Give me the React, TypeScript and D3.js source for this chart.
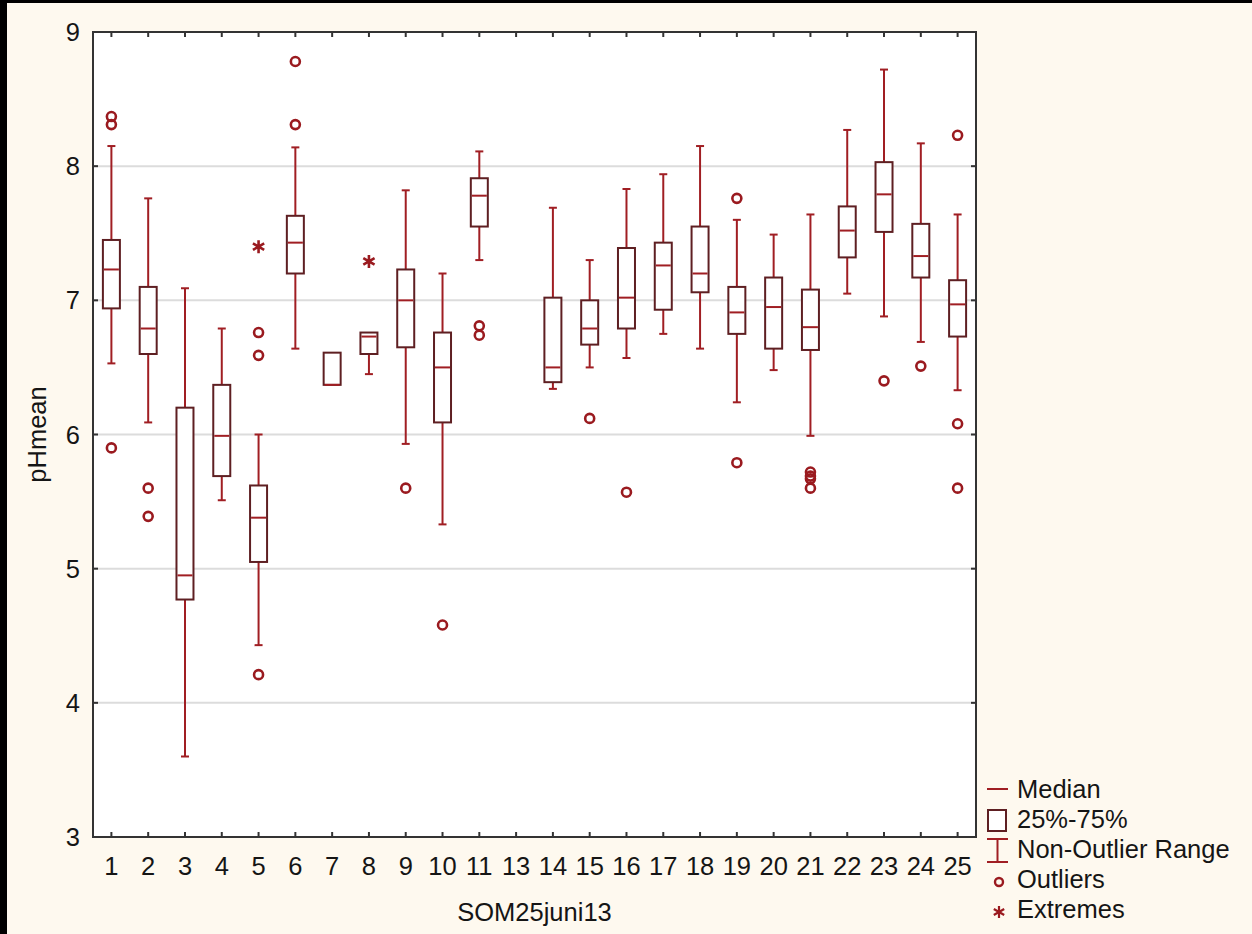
import React, { useEffect, useRef } from 'react';
import * as d3 from 'd3';

// Groups on the x axis (12 has no data and is not shown)
const categories = ['1', '2', '3', '4', '5', '6', '7', '8', '9', '10', '11', '13', '14', '15', '16', '17', '18', '19', '20', '21', '22', '23', '24', '25'];

// Box statistics per group (null = empty group)
const medians: (number | null)[] = [7.23, 6.79, 4.95, 5.99, 5.38, 7.43, 6.37, 6.73, 7.0, 6.5, 7.78, null, 6.5, 6.79, 7.02, 7.26, 7.2, 6.91, 6.95, 6.8, 7.52, 7.79, 7.33, 6.97];
const q1: (number | null)[] = [6.94, 6.6, 4.77, 5.69, 5.05, 7.2, 6.37, 6.6, 6.65, 6.09, 7.55, null, 6.39, 6.67, 6.79, 6.93, 7.06, 6.75, 6.64, 6.63, 7.32, 7.51, 7.17, 6.73];
const q3: (number | null)[] = [7.45, 7.1, 6.2, 6.37, 5.62, 7.63, 6.61, 6.76, 7.23, 6.76, 7.91, null, 7.02, 7.0, 7.39, 7.43, 7.55, 7.1, 7.17, 7.08, 7.7, 8.03, 7.57, 7.15];
const whiskerLow: (number | null)[] = [6.53, 6.09, 3.6, 5.51, 4.43, 6.64, 6.37, 6.45, 5.93, 5.33, 7.3, null, 6.34, 6.5, 6.57, 6.75, 6.64, 6.24, 6.48, 5.99, 7.05, 6.88, 6.69, 6.33];
const whiskerHigh: (number | null)[] = [8.15, 7.76, 7.09, 6.79, 6.0, 8.14, 6.61, 6.76, 7.82, 7.2, 8.11, null, 7.69, 7.3, 7.83, 7.94, 8.15, 7.6, 7.49, 7.64, 8.27, 8.72, 8.17, 7.64];

// Outliers and extremes: [group, value]
const outliers: [string, number][] = [
  ['1', 8.37], ['1', 8.31], ['1', 5.9],
  ['2', 5.6], ['2', 5.39],
  ['5', 6.76], ['5', 6.59], ['5', 4.21],
  ['6', 8.78], ['6', 8.31],
  ['9', 5.6],
  ['10', 4.58],
  ['11', 6.81], ['11', 6.74],
  ['15', 6.12],
  ['16', 5.57],
  ['19', 7.76], ['19', 5.79],
  ['21', 5.72], ['21', 5.69], ['21', 5.67], ['21', 5.6],
  ['23', 6.4],
  ['24', 6.51],
  ['25', 8.23], ['25', 6.08], ['25', 5.6],
];
const extremes: [string, number][] = [['5', 7.4], ['8', 7.29]];

const yTicks = [3, 4, 5, 6, 7, 8, 9];
const legendLabels = ['Median', '25%-75%', 'Non-Outlier Range', 'Outliers', 'Extremes'];

const BOX = '#5e1f22';
const RED = '#a01e23';
const DOT = '#9a1a1f';
const FONT = '"Liberation Sans", Arial, sans-serif';

const asteriskPath = (cx: number, cy: number, r: number) => {
  let p = '';
  for (let i = 0; i < 3; i++) {
    const a = (Math.PI / 3) * i + Math.PI / 2;
    const dx = Math.cos(a) * r;
    const dy = Math.sin(a) * r;
    p += `M${cx - dx},${cy - dy}L${cx + dx},${cy + dy}`;
  }
  return p;
};

const BoxPlot: React.FC = () => {
  const svgRef = useRef<SVGSVGElement>(null);

  useEffect(() => {
    document.body.style.margin = '0';
    const W = 1252;
    const H = 934;
    const left = 93, right = 976, top = 32, bottom = 837;

    const svg = d3.select(svgRef.current);
    svg.selectAll('*').remove();
    svg.attr('width', W).attr('height', H).style('display', 'block');

    // Black edge + cream background
    svg.append('rect').attr('width', W).attr('height', H).attr('fill', '#000');
    svg.append('rect').attr('x', 7).attr('y', 3).attr('width', W - 7).attr('height', H - 3).attr('fill', '#fef9ef');

    const x = d3.scalePoint<string>().domain(categories).range([left, right]).padding(0.5);
    const y = d3.scaleLinear().domain([3, 9]).range([bottom, top]);

    // Plot area
    svg.append('rect')
      .attr('x', left).attr('y', top)
      .attr('width', right - left).attr('height', bottom - top)
      .attr('fill', '#fff');

    // Grid
    svg.append('g')
      .selectAll('line')
      .data(yTicks.filter(t => t > 3 && t < 9))
      .enter()
      .append('line')
      .attr('x1', left).attr('x2', right)
      .attr('y1', d => y(d)).attr('y2', d => y(d))
      .attr('stroke', '#dcdcdc')
      .attr('stroke-width', 2);

    // Frame ticks (inside, all four sides)
    const tickG = svg.append('g').attr('stroke', '#333').attr('stroke-width', 2);
    categories.forEach(c => {
      const cx = x(c)!;
      tickG.append('line').attr('x1', cx).attr('x2', cx).attr('y1', bottom).attr('y2', bottom - 5);
      tickG.append('line').attr('x1', cx).attr('x2', cx).attr('y1', top).attr('y2', top + 5);
    });
    yTicks.forEach(t => {
      tickG.append('line').attr('x1', left).attr('x2', left + 5).attr('y1', y(t)).attr('y2', y(t));
      tickG.append('line').attr('x1', right).attr('x2', right - 5).attr('y1', y(t)).attr('y2', y(t));
    });

    // Boxes
    const boxW = 17;
    const capW = 8;
    const g = svg.append('g');
    categories.forEach((c, i) => {
      const lo = whiskerLow[i], hi = whiskerHigh[i], a = q1[i], b = q3[i], m = medians[i];
      if (lo === null || hi === null || a === null || b === null || m === null) return;
      const cx = x(c)!;
      if (hi > b) {
        g.append('line').attr('x1', cx).attr('x2', cx).attr('y1', y(b)).attr('y2', y(hi)).attr('stroke', RED).attr('stroke-width', 2);
        g.append('line').attr('x1', cx - capW / 2).attr('x2', cx + capW / 2).attr('y1', y(hi)).attr('y2', y(hi)).attr('stroke', RED).attr('stroke-width', 2);
      }
      if (lo < a) {
        g.append('line').attr('x1', cx).attr('x2', cx).attr('y1', y(a)).attr('y2', y(lo)).attr('stroke', RED).attr('stroke-width', 2);
        g.append('line').attr('x1', cx - capW / 2).attr('x2', cx + capW / 2).attr('y1', y(lo)).attr('y2', y(lo)).attr('stroke', RED).attr('stroke-width', 2);
      }
      g.append('rect')
        .attr('x', cx - boxW / 2).attr('y', y(b))
        .attr('width', boxW).attr('height', y(a) - y(b))
        .attr('fill', '#fff')
        .attr('stroke', BOX).attr('stroke-width', 2);
      g.append('line')
        .attr('x1', cx - boxW / 2 + 1).attr('x2', cx + boxW / 2 - 1)
        .attr('y1', y(m)).attr('y2', y(m))
        .attr('stroke', RED).attr('stroke-width', 2);
    });

    // Outliers
    g.selectAll('circle.out')
      .data(outliers)
      .enter()
      .append('circle')
      .attr('class', 'out')
      .attr('cx', d => x(d[0])!)
      .attr('cy', d => y(d[1]))
      .attr('r', 4.5)
      .attr('fill', 'none')
      .attr('stroke', DOT)
      .attr('stroke-width', 2.6);

    // Extremes
    g.selectAll('path.ext')
      .data(extremes)
      .enter()
      .append('path')
      .attr('class', 'ext')
      .attr('d', d => asteriskPath(x(d[0])!, y(d[1]), 6.5))
      .attr('stroke', DOT)
      .attr('stroke-width', 2.6);

    // Frame
    svg.append('rect')
      .attr('x', left).attr('y', top)
      .attr('width', right - left).attr('height', bottom - top)
      .attr('fill', 'none')
      .attr('stroke', '#333')
      .attr('stroke-width', 2);

    // Tick labels
    const txt = svg.append('g').style('font-family', FONT).style('font-size', '25.5px').attr('fill', '#151515');
    txt.selectAll('text.yt')
      .data(yTicks)
      .enter()
      .append('text')
      .attr('class', 'yt')
      .attr('x', 80)
      .attr('y', d => y(d) + 9)
      .attr('text-anchor', 'end')
      .text(d => d);
    txt.selectAll('text.xt')
      .data(categories)
      .enter()
      .append('text')
      .attr('class', 'xt')
      .attr('x', d => x(d)!)
      .attr('y', 875)
      .attr('text-anchor', 'middle')
      .text(d => d);

    // Axis titles
    txt.append('text')
      .attr('x', (left + right) / 2)
      .attr('y', 921)
      .attr('text-anchor', 'middle')
      .text('SOM25juni13');
    txt.append('text')
      .attr('transform', `translate(46,${(top + bottom) / 2}) rotate(-90)`)
      .attr('text-anchor', 'middle')
      .text('pHmean');

    // Legend
    const lx = 987, lw = 21, tx = 1017;
    const base = [798, 828, 858, 888, 918];
    legendLabels.forEach((lab, i) => {
      txt.append('text').attr('x', tx).attr('y', base[i]).text(lab);
    });
    svg.append('line').attr('x1', lx).attr('x2', lx + lw).attr('y1', 789).attr('y2', 789).attr('stroke', RED).attr('stroke-width', 2);
    svg.append('rect').attr('x', lx + 1).attr('y', 810).attr('width', 18).attr('height', 21).attr('fill', '#fff').attr('stroke', BOX).attr('stroke-width', 2);
    svg.append('line').attr('x1', lx).attr('x2', lx + lw).attr('y1', 839).attr('y2', 839).attr('stroke', RED).attr('stroke-width', 2);
    svg.append('line').attr('x1', lx).attr('x2', lx + lw).attr('y1', 862).attr('y2', 862).attr('stroke', RED).attr('stroke-width', 2);
    svg.append('line').attr('x1', lx + lw / 2).attr('x2', lx + lw / 2).attr('y1', 839).attr('y2', 862).attr('stroke', RED).attr('stroke-width', 2);
    svg.append('circle').attr('cx', 999).attr('cy', 882).attr('r', 4).attr('fill', 'none').attr('stroke', DOT).attr('stroke-width', 2.4);
    svg.append('path').attr('d', asteriskPath(999, 912, 6)).attr('stroke', DOT).attr('stroke-width', 2.2);
  }, []);

  return <svg ref={svgRef}></svg>;
};

export default function App() {
  return <BoxPlot />;
}
